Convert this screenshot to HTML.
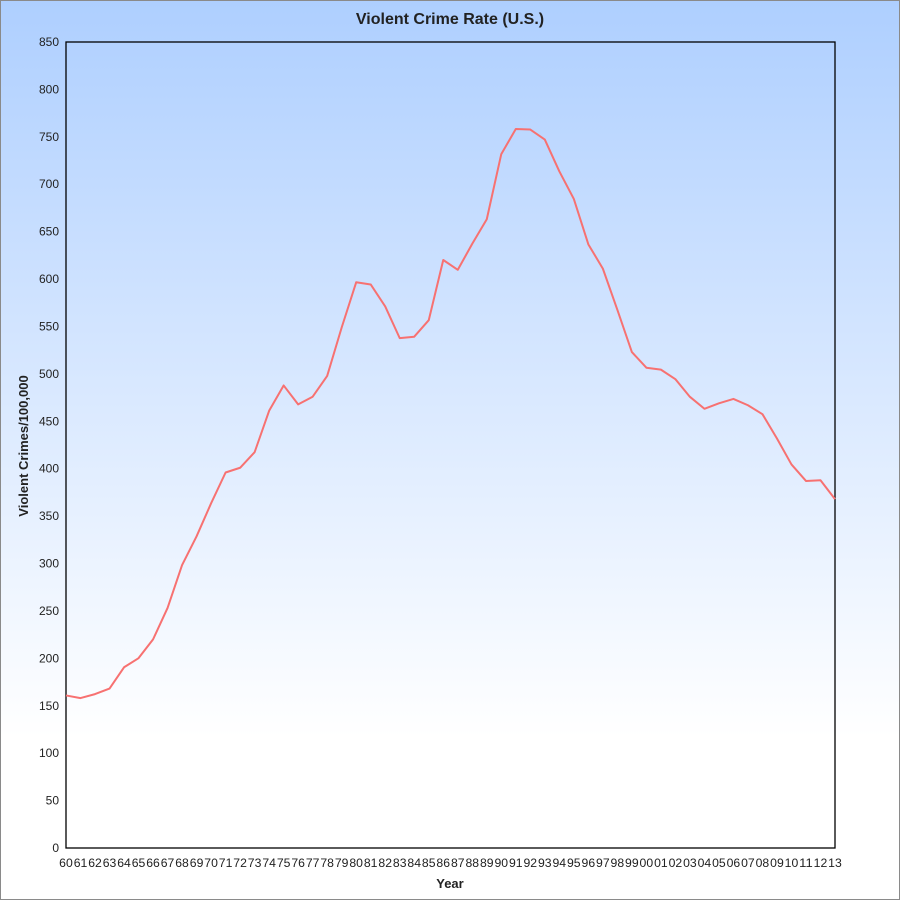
<!DOCTYPE html>
<html><head><meta charset="utf-8"><style>
html,body{margin:0;padding:0}
body{width:900px;height:900px;overflow:hidden;font-family:"Liberation Sans","DejaVu Sans",sans-serif}
#wrap{position:relative;width:898px;height:898px;border:1px solid #8a8a8a;background:linear-gradient(#aecfff 0%,#ffffff 82%)}
svg{position:absolute;left:0;top:0}
</style></head><body>
<div id="wrap">
<svg id="chart" width="898" height="898"></svg>
</div>
<script>
const years=["60","61","62","63","64","65","66","67","68","69","70","71","72","73","74","75","76","77","78","79","80","81","82","83","84","85","86","87","88","89","90","91","92","93","94","95","96","97","98","99","00","01","02","03","04","05","06","07","08","09","10","11","12","13"];
const rates=[160.9,158.1,162.3,168.2,190.6,200.2,220.0,253.2,298.4,328.7,363.5,396.0,401.0,417.4,461.1,487.8,467.8,475.9,497.8,548.9,596.6,594.3,571.1,537.7,539.2,556.6,620.1,609.7,637.2,663.1,731.8,758.2,757.7,747.1,713.6,684.5,636.6,611.0,567.6,523.0,506.5,504.5,494.4,475.8,463.2,469.0,473.6,466.9,457.5,431.9,404.5,387.1,387.8,367.9];
const yTicks=[0,50,100,150,200,250,300,350,400,450,500,550,600,650,700,750,800,850];
const NS="http://www.w3.org/2000/svg";
const svg=document.getElementById('chart');
const L=65,R=834,T=41,B=847,YMAX=850;
const x=i=>L+(R-L)*i/(years.length-1);
const y=v=>B-(B-T)*v/YMAX;
function mk(t,a,p){const e=document.createElementNS(NS,t);for(const k in a)e.setAttribute(k,a[k]);(p||svg).appendChild(e);return e;}
let t=mk('text',{x:449,y:23,'text-anchor':'middle','font-size':'16','font-weight':'bold',fill:'#222'});
t.textContent='Violent Crime Rate (U.S.)';


yTicks.forEach(v=>{
 const e=mk('text',{x:58,y:y(v)+4,'text-anchor':'end','font-size':'12',fill:'#222'});
 e.textContent=v;
 
 
});
years.forEach((s,i)=>{
 const e=mk('text',{x:x(i),y:866,'text-anchor':'middle','font-size':'12',fill:'#222',textLength:'13.6',lengthAdjust:'spacingAndGlyphs'});
 e.textContent=s;
 
 
});
let xt=mk('text',{x:449,y:887,'text-anchor':'middle','font-size':'13','font-weight':'bold',fill:'#222'});
xt.textContent='Year';


let yt=mk('text',{x:0,y:0,'text-anchor':'middle','font-size':'13','font-weight':'bold',fill:'#222',transform:'translate(27,445) rotate(-90)'});
yt.textContent='Violent Crimes/100,000';


let fr=mk('rect',{x:L,y:T,width:R-L,height:B-T,fill:'none',stroke:'#000','stroke-width':'1.3'});


let d=rates.map((v,i)=>(i?'L':'M')+x(i).toFixed(2)+','+y(v).toFixed(2)).join('');
let ln=mk('path',{d:d,fill:'none',stroke:'#f77171','stroke-width':'2','stroke-linejoin':'round'});


</script>
</body></html>
